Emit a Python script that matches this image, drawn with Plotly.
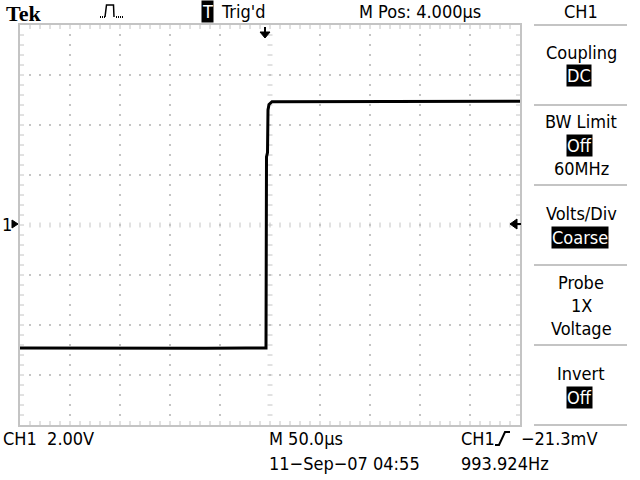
import numpy as np
import plotly.graph_objects as go

time_us = [-246, -180, -120, -60, -20, 0, 0.5, 1.5, 2.0, 3.0, 6.0, 60, 130, 200, 254]
volts   = [-4.92, -4.93, -4.92, -4.93, -4.92, -4.92, 2.72, 2.9, 4.6, 4.82, 4.93, 4.94, 4.95, 4.94, 4.95]

x_range = [-246, 254]   # 50 us/div, 10 div, M Pos 4.000 us
y_range = [-8, 8]       # 2.00 V/div, 8 div

GR = "#c4c4c4"
FONT = "DejaVu Sans Condensed, Liberation Sans Narrow, sans-serif"
FS = 18

L, R, T, B = 20, 520, 25, 425
def px(x): return (x - L) / (R - L)
def py(y): return (B - y) / (B - T)

fig = go.Figure()

# ---- graticule ----
xs_minor = np.arange(x_range[0], x_range[1] + 0.01, 10.0)
ys_minor = np.arange(y_range[0], y_range[1] + 0.01, 0.4)
xdiv = [x_range[0] + 50 * k for k in range(1, 10) if k != 5]
ydiv = [y_range[0] + 2 * k for k in range(1, 8) if k != 4]
xc = x_range[0] + 250
dx_px = 1.0      # us per pixel
dy_px = 16 / 400 # V per pixel

dotx, doty = [], []
for xv in xdiv:
    for yv in ys_minor[1:-1]:
        dotx.append(xv); doty.append(yv)
for yv in ydiv:
    for xv in xs_minor[1:-1]:
        dotx.append(xv); doty.append(yv)
fig.add_trace(go.Scatter(x=dotx, y=doty, mode="markers",
                         marker=dict(symbol="square", size=2, color=GR, line_width=0),
                         hoverinfo="skip", showlegend=False))

segx, segy = [], []
for xv in xs_minor[1:-1]:
    segx += [xv, xv, None, xv, xv, None]
    segy += [y_range[1], y_range[1] - 4 * dy_px, None, y_range[0], y_range[0] + 4 * dy_px, None]
for yv in ys_minor[1:-1]:
    segx += [x_range[0], x_range[0] + 4 * dx_px, None, x_range[1], x_range[1] - 4 * dx_px, None]
    segy += [yv, yv, None, yv, yv, None]
for xv in xs_minor[1:-1]:
    segx += [xv, xv, None]
    segy += [-2.5 * dy_px, 2.5 * dy_px, None]
for yv in ys_minor[1:-1]:
    segx += [xc - 2.5 * dx_px, xc + 2.5 * dx_px, None]
    segy += [yv, yv, None]
fig.add_trace(go.Scatter(x=segx, y=segy, mode="lines", line=dict(color=GR, width=1),
                         hoverinfo="skip", showlegend=False))

# ---- waveform ----
fig.add_trace(go.Scatter(x=time_us, y=volts, mode="lines",
                         line=dict(color="black", width=3),
                         hoverinfo="skip", showlegend=False))

shapes = []
for yy in [25, 105, 185, 265, 345, 425]:
    shapes.append(dict(type="line", xref="paper", yref="paper",
                       x0=px(534), x1=px(627), y0=py(yy), y1=py(yy),
                       line=dict(color=GR, width=2)))
shapes.append(dict(type="line", xref="paper", yref="paper", x0=px(265), x1=px(265),
                   y0=py(27), y1=py(33), line=dict(color="black", width=2)))
shapes.append(dict(type="path", xref="paper", yref="paper",
                   path=f"M {px(260)} {py(32)} L {px(270)} {py(32)} L {px(265)} {py(38)} Z",
                   fillcolor="black", line=dict(color="black", width=1)))
shapes.append(dict(type="path", xref="paper", yref="paper",
                   path=f"M {px(12)} {py(220)} L {px(18)} {py(224)} L {px(12)} {py(228)} Z",
                   fillcolor="black", line=dict(color="black", width=1)))
shapes.append(dict(type="path", xref="paper", yref="paper",
                   path=f"M {px(517)} {py(219)} L {px(510)} {py(224)} L {px(517)} {py(229)} Z",
                   fillcolor="black", line=dict(color="black", width=1)))
shapes.append(dict(type="line", xref="paper", yref="paper", x0=px(515), x1=px(521),
                   y0=py(224), y1=py(224), line=dict(color="black", width=2)))
shapes.append(dict(type="path", xref="paper", yref="paper",
                   path=(f"M {px(105)} {py(17)} L {px(106.5)} {py(5)} L {px(113.5)} {py(5)} "
                         f"L {px(114)} {py(17)}"),
                   line=dict(color="black", width=1.5)))
for xx in [100, 102, 104, 116, 118, 120, 122]:
    shapes.append(dict(type="rect", xref="paper", yref="paper",
                       x0=px(xx), x1=px(xx + 1), y0=py(18), y1=py(16),
                       fillcolor="black", line_width=0))
shapes.append(dict(type="path", xref="paper", yref="paper",
                   path=(f"M {px(495)} {py(445)} L {px(499)} {py(445)} L {px(505)} {py(432)} "
                         f"L {px(510)} {py(432)}"),
                   line=dict(color="black", width=2)))
fig.update_layout(shapes=shapes)

ann = []
def text(x, y, s, anchor="left", size=FS, family=FONT, color="black", bg=None, bold=False):
    if bold:
        s = f"<b>{s}</b>"
    ann.append(dict(x=px(x), y=py(y), xref="paper", yref="paper", text=s, showarrow=False,
                    xanchor=anchor, yanchor="middle",
                    font=dict(family=family, size=size, color=color),
                    bgcolor=bg, borderpad=0))

text(5, 14, "Tek", size=22, family="Liberation Serif, DejaVu Serif, serif", bold=True)
text(207, 11, "T", anchor="center", color="white", bg="black")
text(220, 11, "Trig'd")
text(358, 11, "M Pos: 4.000µs")
text(581, 11, "CH1", anchor="center")

text(581, 52, "Coupling", anchor="center")
text(579, 76, "DC", anchor="center", color="white", bg="black")
text(581, 121, "BW Limit", anchor="center")
text(579, 145, "Off", anchor="center", color="white", bg="black")
text(581, 168, "60MHz", anchor="center")
text(581, 213, "Volts/Div", anchor="center")
text(580, 237, "Coarse", anchor="center", color="white", bg="black")
text(581, 282, "Probe", anchor="center")
text(581, 305, "1X", anchor="center")
text(581, 328, "Voltage", anchor="center")
text(581, 373, "Invert", anchor="center")
text(579, 397, "Off", anchor="center", color="white", bg="black")

text(1, 224, "1")
text(2, 438, "CH1  2.00V")
text(268, 438, "M 50.0µs")
text(460, 438, "CH1")
text(520, 438, "−21.3mV")
text(268, 463, "11−Sep−07 04:55")
text(460, 463, "993.924Hz")

fig.update_layout(
    annotations=ann,
    width=640, height=480,
    margin=dict(l=L, r=640 - R, t=T, b=480 - B, pad=0),
    paper_bgcolor="white", plot_bgcolor="white",
    xaxis=dict(range=x_range, showgrid=False, zeroline=False, showticklabels=False,
               ticks="", showline=True, mirror=True, linecolor=GR, linewidth=2, fixedrange=True),
    yaxis=dict(range=y_range, showgrid=False, zeroline=False, showticklabels=False,
               ticks="", showline=True, mirror=True, linecolor=GR, linewidth=2, fixedrange=True),
)

fig.write_html("out.html", config={"displayModeBar": False, "staticPlot": True},
               post_script="document.body.style.margin='0';document.body.style.overflow='hidden';")
